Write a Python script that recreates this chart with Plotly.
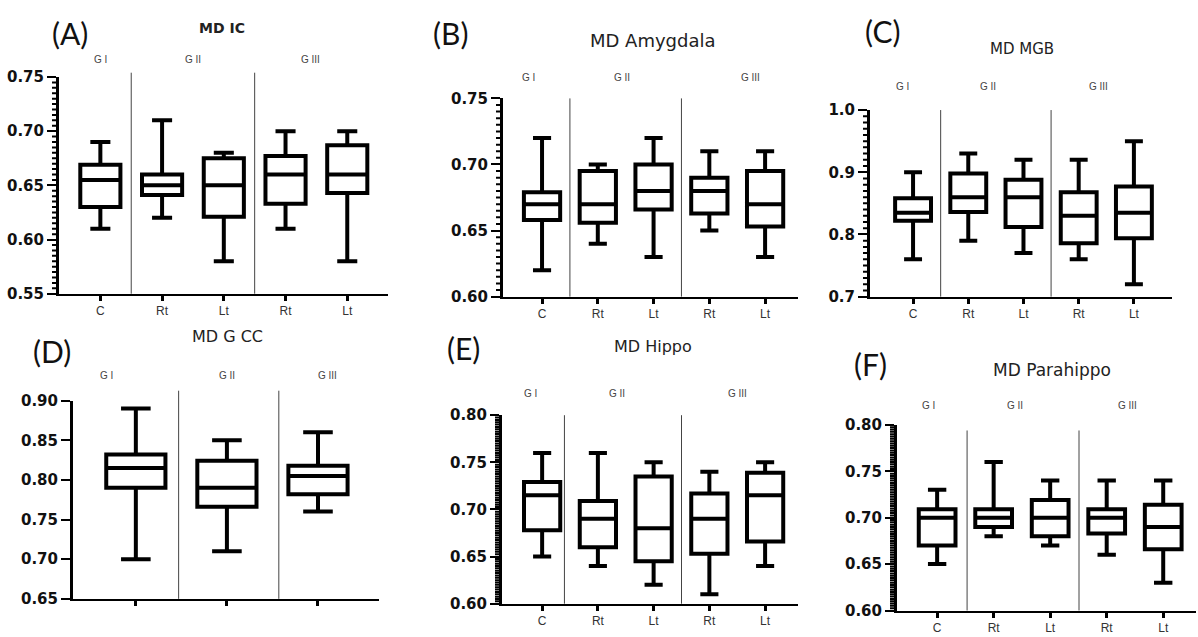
import plotly.graph_objects as go

W, H = 1198, 637

# ---------------- data ----------------
cats5 = ["C", "Rt", "Lt", "Rt", "Lt"]
cats3 = ["G I", "G II", "G III"]
groups = ["G I", "G II", "G III"]

A_low = [0.61, 0.62, 0.58, 0.61, 0.58]
A_q1 = [0.630, 0.641, 0.621, 0.633, 0.643]
A_med = [0.655, 0.650, 0.650, 0.660, 0.660]
A_q3 = [0.669, 0.660, 0.675, 0.677, 0.687]
A_high = [0.69, 0.71, 0.68, 0.70, 0.70]

B_low = [0.62, 0.64, 0.63, 0.65, 0.63]
B_q1 = [0.658, 0.656, 0.666, 0.663, 0.653]
B_med = [0.670, 0.670, 0.680, 0.680, 0.670]
B_q3 = [0.679, 0.695, 0.700, 0.690, 0.695]
B_high = [0.72, 0.70, 0.72, 0.71, 0.71]

C_low = [0.76, 0.79, 0.77, 0.76, 0.72]
C_q1 = [0.822, 0.836, 0.812, 0.786, 0.794]
C_med = [0.835, 0.860, 0.860, 0.830, 0.835]
C_q3 = [0.858, 0.898, 0.888, 0.868, 0.877]
C_high = [0.90, 0.93, 0.92, 0.92, 0.95]

D_low = [0.70, 0.71, 0.76]
D_q1 = [0.790, 0.766, 0.782]
D_med = [0.815, 0.790, 0.805]
D_q3 = [0.832, 0.824, 0.818]
D_high = [0.89, 0.85, 0.86]

E_low = [0.65, 0.64, 0.62, 0.61, 0.64]
E_q1 = [0.678, 0.660, 0.645, 0.653, 0.666]
E_med = [0.715, 0.690, 0.680, 0.690, 0.715]
E_q3 = [0.729, 0.709, 0.735, 0.717, 0.739]
E_high = [0.76, 0.76, 0.75, 0.74, 0.75]

F_low = [0.65, 0.68, 0.67, 0.66, 0.63]
F_q1 = [0.670, 0.690, 0.680, 0.683, 0.666]
F_med = [0.700, 0.700, 0.700, 0.700, 0.690]
F_q3 = [0.709, 0.709, 0.719, 0.709, 0.714]
F_high = [0.73, 0.76, 0.74, 0.74, 0.74]

# ---------------- panel layout (pixels) ----------------
panels = [
    dict(key="A", title="MD IC", bold=True, tsize=14, cats=cats5,
         data=(A_low, A_q1, A_med, A_q3, A_high),
         px=(59, 388), py=(70, 293), yr=(0.55, 0.75), dt=0.05, mn=10, fmt=".2f",
         xr=(-0.67, 4.66), seps=(0.5, 2.5), gx=(0, 1.5, 3.4), gy=52,
         tpos=(222, 20), lpos=(70, 25), sep_top=1.02, showx=True),
    dict(key="B", title="MD Amygdala", bold=False, tsize=18, cats=cats5,
         data=(B_low, B_q1, B_med, B_q3, B_high),
         px=(503, 798), py=(92, 296), yr=(0.60, 0.75), dt=0.05, mn=10, fmt=".2f",
         xr=(-0.70, 4.59), seps=(0.5, 2.5), gx=(-0.25, 1.43, 3.73), gy=71,
         tpos=(653, 32), lpos=(450, 25), sep_top=1.0, showx=True),
    dict(key="C", title="MD MGB", bold=False, tsize=15, cats=cats5,
         data=(C_low, C_q1, C_med, C_q3, C_high),
         px=(870, 1172), py=(104, 296), yr=(0.70, 1.0), dt=0.1, mn=10, fmt=".1f",
         xr=(-0.78, 4.69), seps=(0.5, 2.5), gx=(-0.2, 1.35, 3.35), gy=80,
         tpos=(1022, 41), lpos=(882, 23), sep_top=1.0, showx=True),
    dict(key="D", title="MD G CC", bold=False, tsize=16, cats=cats3,
         data=(D_low, D_q1, D_med, D_q3, D_high),
         px=(73, 379), py=(403, 607), yr=(0.65, 0.90), dt=0.05, mn=0, fmt=".2f",
         xr=(-0.69, 2.67), seps=(0.47, 1.57), gx=(-0.32, 1.0, 2.1), gy=377,
         tpos=(227, 337), lpos=(52, 352), sep_top=1.05, showx=False),
    dict(key="E", title="MD Hippo", bold=False, tsize=16, cats=cats5,
         data=(E_low, E_q1, E_med, E_q3, E_high),
         px=(502, 798), py=(418, 612), yr=(0.60, 0.80), dt=0.05, mn=20, fmt=".2f",
         xr=(-0.72, 4.59), seps=(0.4, 2.5), gx=(-0.2, 1.35, 3.5), gy=396,
         tpos=(653, 347), lpos=(463, 349), sep_top=1.0, showx=True),
    dict(key="F", title="MD Parahippo", bold=False, tsize=17, cats=cats5,
         data=(F_low, F_q1, F_med, F_q3, F_high),
         px=(897, 1196), py=(428, 619), yr=(0.60, 0.80), dt=0.05, mn=20, fmt=".2f",
         xr=(-0.71, 4.58), seps=(0.53, 2.51), gx=(-0.16, 1.38, 3.36), gy=408,
         tpos=(1052, 371), lpos=(870, 365), sep_top=0.97, showx=True),
]

fig = go.Figure()
annotations = []
shapes = []

TICKFONT = dict(family="DejaVu Sans", size=15, color="#111", weight="bold")
MINOR_LEN = 7  # px, measured from the axis line centre

for i, p in enumerate(panels):
    n = i + 1
    xa = "x" if n == 1 else f"x{n}"
    ya = "y" if n == 1 else f"y{n}"
    low, q1, med, q3, high = p["data"]
    xs = list(range(len(p["cats"])))
    fig.add_trace(go.Box(
        x=xs, q1=q1, median=med, q3=q3, lowerfence=low, upperfence=high,
        xaxis=xa, yaxis=ya, boxpoints=False, width=0.65, whiskerwidth=0.5,
        line=dict(color="black", width=4), fillcolor="rgba(255,255,255,0)",
        showlegend=False, hoverinfo="skip",
    ))
    xd = [p["px"][0] / W, p["px"][1] / W]
    yd = [1 - p["py"][1] / H, 1 - p["py"][0] / H]
    xaxis = dict(
        domain=xd, anchor=ya, range=list(p["xr"]), showgrid=False, zeroline=False,
        showline=True, linecolor="black", linewidth=2,
        tickmode="array", tickvals=xs, ticktext=p["cats"],
        showticklabels=p["showx"],
        ticks="outside", ticklen=5, tickwidth=3, tickcolor="black",
        tickfont=dict(family="Liberation Sans", size=12, color="#333"),
    )
    yaxis = dict(
        domain=yd, anchor=xa, range=list(p["yr"]), showgrid=False, zeroline=False,
        showline=True, linecolor="black", linewidth=3,
        tick0=p["yr"][0], dtick=p["dt"], tickformat=p["fmt"],
        ticks="outside", ticklen=9, tickwidth=2, tickcolor="black",
        tickfont=TICKFONT,
    )
    fig.update_layout({("xaxis" if n == 1 else f"xaxis{n}"): xaxis,
                       ("yaxis" if n == 1 else f"yaxis{n}"): yaxis})

    # minor ticks of the y axis (axis decoration), spaced dt/mn
    if p["mn"]:
        nsteps = int(round((p["yr"][1] - p["yr"][0]) / p["dt"])) * p["mn"]
        step = (p["yr"][1] - p["yr"][0]) / nsteps
        for k in range(1, nsteps):
            if k % p["mn"] == 0:
                continue
            v = p["yr"][0] + k * step
            shapes.append(dict(type="line", xref="paper", yref=ya,
                               x0=(p["px"][0] - MINOR_LEN) / W,
                               x1=p["px"][0] / W, y0=v, y1=v, layer="above",
                               line=dict(color="black", width=2)))

    for s in p["seps"]:
        shapes.append(dict(type="line", xref=xa, yref=f"{ya} domain",
                           x0=s, x1=s, y0=0, y1=p["sep_top"],
                           line=dict(color="#444", width=1)))
    for g, gxv in zip(groups, p["gx"]):
        annotations.append(dict(text=g, xref=xa, yref="paper", x=gxv,
                                y=1 - p["gy"] / H, showarrow=False,
                                xanchor="center", yanchor="middle",
                                font=dict(family="Liberation Sans", size=10, color="#444")))
    annotations.append(dict(
        text=p["title"], xref="paper", yref="paper",
        x=p["tpos"][0] / W, y=1 - p["tpos"][1] / H, showarrow=False,
        xanchor="center", yanchor="middle",
        font=dict(family="DejaVu Sans", size=p["tsize"], color="#222",
                  weight="bold" if p["bold"] else "normal")))
    annotations.append(dict(
        text=f"({p['key']})", xref="paper", yref="paper",
        x=p["lpos"][0] / W, y=1 - p["lpos"][1] / H, showarrow=False,
        xanchor="center", yanchor="middle",
        font=dict(family="Lato", size=30, color="#111")))

fig.update_layout(
    width=W, height=H, margin=dict(l=0, r=0, t=0, b=0),
    paper_bgcolor="white", plot_bgcolor="white",
    annotations=annotations, shapes=shapes, showlegend=False,
)

fig.write_html("out.html", config={"displayModeBar": False},
               post_script="document.body.style.margin='0';")
